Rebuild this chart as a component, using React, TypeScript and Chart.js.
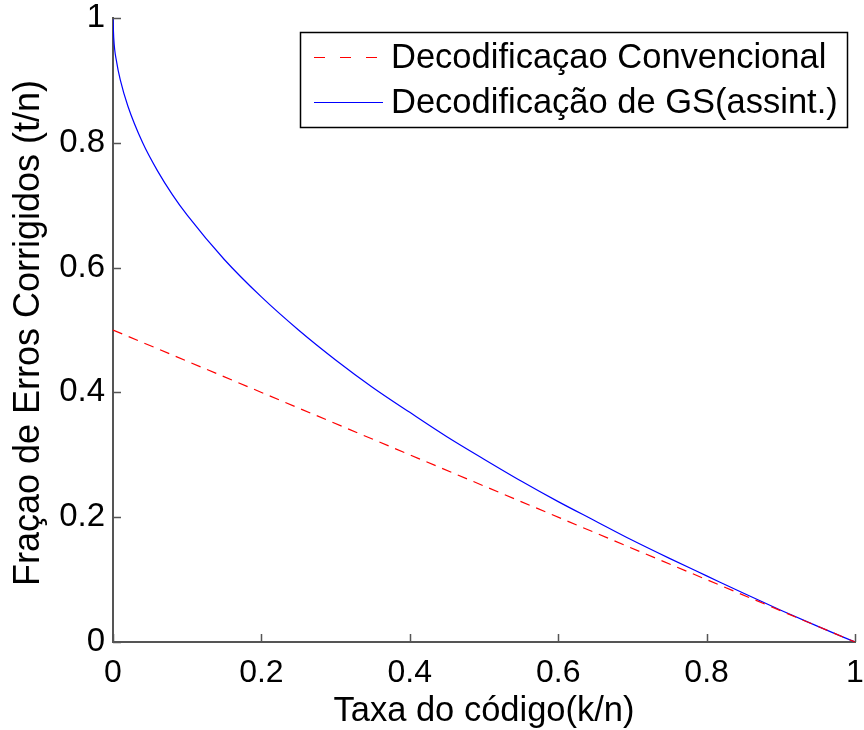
import React, { useEffect, useRef } from "react";
import { Chart, registerables } from "chart.js";

Chart.register(...registerables);

const convRate = [0, 1];
const convFrac = [0.5, 0];

const gsRate = [0, 0.001, 0.005, 0.01, 0.02, 0.04, 0.06, 0.08, 0.1, 0.15, 0.2, 0.25, 0.3, 0.35, 0.4, 0.45, 0.5, 0.55, 0.6, 0.65, 0.7, 0.75, 0.8, 0.85, 0.9, 0.95, 1];
const gsFrac = [1, 0.968, 0.929, 0.9, 0.859, 0.8, 0.755, 0.717, 0.684, 0.613, 0.553, 0.5, 0.452, 0.408, 0.368, 0.329, 0.293, 0.258, 0.225, 0.194, 0.163, 0.134, 0.106, 0.078, 0.051, 0.025, 0];

const xTicks = [0, 0.2, 0.4, 0.6, 0.8, 1];
const yTicks = [0, 0.2, 0.4, 0.6, 0.8, 1];

const legendLabels = ["Decodificaçao Convencional", "Decodificação de GS(assint.)"];
const xTitle = "Taxa do código(k/n)";
const yTitle = "Fraçao de Erros Corrigidos (t/n)";

const FONT = '"Liberation Sans", Arial, sans-serif';

export default function App() {
  const ref = useRef<HTMLCanvasElement | null>(null);
  useEffect(() => {
    const canvas = ref.current;
    if (!canvas) return;
    const overlay = {
      id: "overlay",
      afterDraw(chart: any) {
        const ctx = chart.ctx;
        const xs = chart.scales.x;
        const ys = chart.scales.y;
        const ca = chart.chartArea;
        ctx.save();
        // inward ticks
        ctx.strokeStyle = "#555";
        ctx.lineWidth = 1.5;
        ctx.beginPath();
        for (const v of yTicks) {
          const y = Math.round(ys.getPixelForValue(v)) + 0.5;
          ctx.moveTo(ca.left, y);
          ctx.lineTo(ca.left + 8, y);
        }
        for (const v of xTicks) {
          const x = Math.round(xs.getPixelForValue(v)) + 0.5;
          ctx.moveTo(x, ca.bottom);
          ctx.lineTo(x, ca.bottom - 8);
        }
        ctx.stroke();
        // titles
        ctx.fillStyle = "#000";
        ctx.font = `34.5px ${FONT}`;
        ctx.textAlign = "center";
        ctx.textBaseline = "alphabetic";
        ctx.fillText(xTitle, (ca.left + ca.right) / 2, 721);
        ctx.save();
        ctx.font = `36px ${FONT}`;
        ctx.translate(39, 333);
        ctx.rotate(-Math.PI / 2);
        ctx.fillText(yTitle, 0, 0);
        ctx.restore();
        // legend
        const bx = 300.5, by = 32.5, bw = 547, bh = 95;
        ctx.fillStyle = "#fff";
        ctx.fillRect(bx, by, bw, bh);
        ctx.strokeStyle = "#000";
        ctx.lineWidth = 1.5;
        ctx.strokeRect(bx, by, bw, bh);
        const rows = [57, 102];
        const colors = ["#ff0000", "#0000ff"];
        const dashes = [[11, 15], []];
        rows.forEach((ry, i) => {
          ctx.strokeStyle = colors[i];
          ctx.lineWidth = 1.2;
          ctx.setLineDash(dashes[i]);
          ctx.beginPath();
          ctx.moveTo(314, ry + 0.5);
          ctx.lineTo(383, ry + 0.5);
          ctx.stroke();
          ctx.setLineDash([]);
          ctx.fillStyle = "#000";
          ctx.font = `34.5px ${FONT}`;
          ctx.textAlign = "left";
          ctx.textBaseline = "middle";
          ctx.fillText(legendLabels[i], 391, ry + 1);
        });
        ctx.restore();
      },
    };
    const chart = new Chart(canvas, {
      type: "line",
      data: {
        datasets: [
          {
            label: legendLabels[0],
            data: convRate.map((r, i) => ({ x: r, y: convFrac[i] })),
            borderColor: "#ff0000",
            borderWidth: 1.2,
            borderDash: [10, 7],
            pointRadius: 0,
            fill: false,
            tension: 0,
          },
          {
            label: legendLabels[1],
            data: gsRate.map((r, i) => ({ x: r, y: gsFrac[i] })),
            borderColor: "#0000ff",
            borderWidth: 1.2,
            pointRadius: 0,
            fill: false,
            cubicInterpolationMode: "monotone",
          },
        ],
      },
      options: {
        animation: false,
        responsive: true,
        maintainAspectRatio: false,
        layout: { padding: { top: 18, right: 9, left: 0, bottom: 0 } },
        plugins: { legend: { display: false }, tooltip: { enabled: false } },
        scales: {
          x: {
            type: "linear",
            min: 0,
            max: 1,
            afterFit: (s: any) => { s.height = 88; s.paddingLeft = 0; s.paddingRight = 0; },
            afterBuildTicks: (s: any) => { s.ticks = xTicks.map((v) => ({ value: v })); },
            grid: { display: false, drawTicks: false },
            border: { display: true, color: "#555", width: 2 },
            ticks: {
              padding: 12,
              color: "#000",
              font: { family: FONT, size: 32 },
              maxRotation: 0,
              callback: (v: any) => String(v),
            },
          },
          y: {
            type: "linear",
            min: 0,
            max: 1,
            afterFit: (s: any) => { s.width = 113; s.paddingTop = 0; s.paddingBottom = 0; },
            afterBuildTicks: (s: any) => { s.ticks = yTicks.map((v) => ({ value: v })); },
            grid: { display: false, drawTicks: false },
            border: { display: true, color: "#555", width: 2 },
            ticks: {
              padding: 8,
              color: "#000",
              font: { family: FONT, size: 33 },
              callback: (v: any) => String(v),
            },
          },
        },
      },
      plugins: [overlay],
    });
    return () => chart.destroy();
  }, []);
  return (
    <div style={{ position: "absolute", left: 0, top: 0, width: 864, height: 730, background: "#fff" }}>
      <canvas ref={ref} />
    </div>
  );
}
